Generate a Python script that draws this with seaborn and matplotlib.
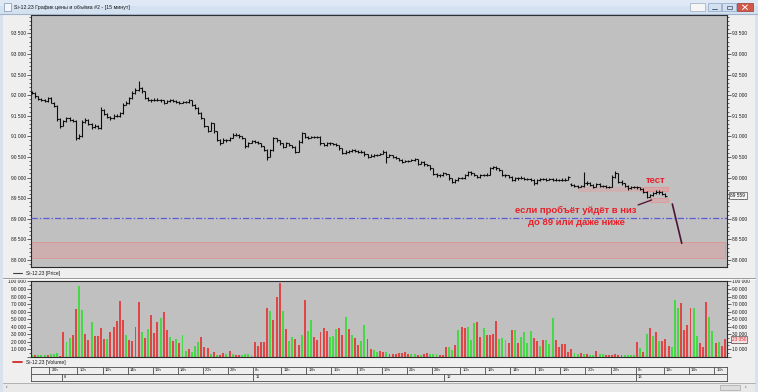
import numpy as np
import pandas as pd
import matplotlib
matplotlib.use("Agg")
import matplotlib.pyplot as plt
from matplotlib.patches import Rectangle
from matplotlib.lines import Line2D
from matplotlib.ticker import MultipleLocator, FuncFormatter
from matplotlib.transforms import blended_transform_factory
import seaborn as sns

sns.set_style("white")
plt.rcParams["font.family"] = ["Liberation Sans", "DejaVu Sans"]

# ------------------------------------------------------------------ data
title = "Si-12.23 График цены и объёма #2 - [15 минут]"
sessions = [("7", "21:30", "23:45"), ("8", "08:45", "23:45"), ("11", "08:45", "23:45"),
            ("12", "08:45", "23:45"), ("13", "08:45", "15:45")]
hour_labels = {"7": [23], "8": [10, 12, 14, 16, 18, 20, 22],
               "11": [8, 11, 13, 15, 17, 19, 21, 23],
               "12": [10, 12, 14, 16, 18, 20, 22], "13": [8, 11, 13, 15]}
day_labels = ["8", "11", "12", "13"]

price_first_open = 92080
price_open_gaps = {172: 89850}
price_close = [
    92050, 91970, 91900, 91880, 91860, 91930, 91820, 91740, 91420, 91260,
    91370, 91440, 91400, 91380, 90970, 91000, 91360, 91400, 91300, 91230,
    91250, 91200, 91650, 91540, 91480, 91440, 91500, 91500, 91570, 91770,
    91810, 91930, 92050, 92130, 92170, 92090, 91930, 91890, 91870, 91890,
    91890, 91870, 91810, 91860, 91870, 91860, 91840, 91810, 91830, 91830,
    91870, 91770, 91690, 91570, 91440, 91250, 91130, 91320, 91130, 90920,
    90840, 90920, 90900, 90960, 91040, 91030, 91000, 90960, 90760, 90840,
    90880, 90870, 90840, 90760, 90680,
    90510, 90670, 90950, 90900, 90830, 90750, 90830, 90790, 90750, 90630,
    90870, 91070, 90990, 90970, 90990, 90990, 90990, 90830, 90790, 90830,
    90830, 90810, 90790, 90710, 90590, 90630, 90640, 90670, 90650, 90630,
    90630, 90560, 90510, 90530, 90540, 90550, 90570, 90630, 90510, 90540,
    90510, 90470, 90430, 90380, 90400, 90400, 90430, 90450, 90340, 90380,
    90320, 90300, 90220, 90080, 90050, 90060, 90100, 90080, 89980, 89900,
    89940, 89980, 89990, 90060, 90140, 90100, 90060, 90020, 90060, 90060,
    90070, 90220,
    90260, 90220, 90180, 90060, 90050, 90020, 89940, 89980, 89980, 90000,
    89970, 89970, 89950, 89860, 89940, 89960, 89960, 89950, 89960, 89950,
    89950, 89940, 89950, 89950, 90010,
    89820, 89800, 89780, 89800, 89860, 89880, 89820, 89780, 89840, 89800,
    89790, 89780, 89770, 90020, 90100, 89900, 89860, 89800, 89740, 89770,
    89770, 89760, 89720, 89660, 89540, 89580, 89620, 89640, 89650, 89600, 89559]
price_high = [
    92100, 92070, 91990, 91920, 91910, 91960, 91950, 91840, 91760, 91440,
    91400, 91470, 91460, 91420, 91400, 91050, 91390, 91440, 91420, 91320,
    91290, 91270, 91700, 91660, 91560, 91500, 91540, 91540, 91600, 91800,
    91850, 91960, 92090, 92170, 92340, 92200, 92100, 91950, 91910, 91920,
    91930, 91910, 91880, 91890, 91900, 91900, 91880, 91860, 91860, 91860,
    91910, 91880, 91780, 91700, 91580, 91450, 91260, 91350, 91330, 91140,
    90940, 90950, 90940, 90990, 91080, 91070, 91050, 91010, 90970, 90870,
    90910, 90900, 90890, 90850, 90770,
    90690, 90700, 90980, 90970, 90910, 90840, 90860, 90840, 90800, 90760,
    90900, 91100, 91080, 91010, 91020, 91020, 91020, 91000, 90850, 90860,
    90860, 90850, 90830, 90800, 90720, 90660, 90670, 90700, 90690, 90670,
    90660, 90640, 90570, 90560, 90570, 90580, 90600, 90660, 90640, 90570,
    90550, 90520, 90480, 90440, 90430, 90430, 90460, 90480, 90460, 90410,
    90390, 90340, 90310, 90230, 90100, 90090, 90130, 90120, 90090, 89990,
    89970, 90010, 90020, 90090, 90170, 90160, 90120, 90070, 90090, 90090,
    90100, 90250,
    90290, 90280, 90240, 90190, 90090, 90070, 90030, 90010, 90010, 90030,
    90010, 90000, 89990, 89960, 89970, 89990, 89990, 89980, 89990, 89980,
    89980, 89970, 89980, 89980, 90040,
    89860, 89840, 89820, 89830, 90140, 89910, 89900, 89840, 89870, 89860,
    89830, 89820, 89800, 90050, 90150, 90110, 89930, 89880, 89820, 89800,
    89800, 89790, 89780, 89740, 89680, 89610, 89650, 89700, 89690, 89670, 89620]
price_low = [
    92020, 91940, 91880, 91850, 91830, 91840, 91800, 91720, 91380, 91200,
    91240, 91350, 91380, 91350, 90900, 90930, 90980, 91330, 91270, 91180,
    91200, 91170, 91180, 91510, 91450, 91400, 91420, 91470, 91480, 91550,
    91750, 91790, 91910, 92030, 92110, 92060, 91900, 91860, 91840, 91850,
    91860, 91840, 91780, 91800, 91840, 91830, 91810, 91780, 91800, 91800,
    91820, 91740, 91660, 91540, 91410, 91220, 91100, 91120, 91080, 90880,
    90800, 90830, 90870, 90890, 90950, 91000, 90970, 90930, 90720, 90750,
    90830, 90840, 90810, 90730, 90650,
    90425, 90490, 90650, 90870, 90800, 90720, 90740, 90760, 90720, 90600,
    90620, 90850, 90960, 90940, 90950, 90960, 90960, 90800, 90760, 90770,
    90800, 90780, 90760, 90680, 90560, 90560, 90600, 90620, 90620, 90600,
    90600, 90530, 90480, 90490, 90510, 90520, 90540, 90560, 90350, 90490,
    90480, 90440, 90400, 90350, 90370, 90370, 90390, 90400, 90310, 90330,
    90290, 90270, 90190, 90050, 90010, 90020, 90040, 90050, 89950, 89860,
    89880, 89920, 89960, 89970, 90040, 90070, 90030, 89990, 90000, 90030,
    90040, 90050,
    90200, 90190, 90150, 90030, 90020, 89990, 89910, 89920, 89950, 89960,
    89940, 89940, 89920, 89830, 89850, 89920, 89930, 89920, 89930, 89920,
    89920, 89910, 89920, 89920, 89930,
    89790, 89770, 89750, 89760, 89780, 89830, 89790, 89750, 89760, 89770,
    89760, 89750, 89740, 89760, 89990, 89870, 89830, 89770, 89710, 89720,
    89740, 89730, 89690, 89630, 89500, 89520, 89560, 89600, 89610, 89570, 89530]

volume = [
    2600, 1800, 1500, 2200, 1800, 2200, 3100, 3100, 4400, 1300,
    # day 8
    32600, 20000, 24700, 29000, 63000, 94000, 62000, 30000, 22000, 46700,
    26800, 26800, 38700, 23300, 23300, 33000, 40000, 47600, 74000, 49000,
    29000, 21500, 20200, 40000, 72300, 32600, 24700, 36500, 55500, 31300,
    46700, 51100, 59900, 35600, 25600, 20200, 23300, 18000, 28200, 7900,
    10500, 6200, 13700, 18900, 25600, 12800, 11500, 3500, 6200, 2600,
    2600, 4800, 3500, 7900, 3500, 1700, 1700, 2600, 3500, 3500,
    2000,
    # day 11
    20000, 14000,
    20000, 20000, 65000, 61000, 48500, 80000, 97500, 61000, 37000, 21000,
    25600, 23300, 15900, 29000, 75800, 34400, 49000, 26000, 22400, 33000,
    38700, 34400, 26000, 26800, 36500, 37800, 29000, 53000, 37000, 28200,
    24700, 15900, 21000, 42300, 23800, 10000, 8800, 5700, 7000, 6600,
    6200, 3100, 3100, 3500, 4800, 4400, 6200, 4000, 3100, 3100,
    2600, 2600, 3100, 4400, 3100, 3500, 3100, 2200, 1800,
    # day 12
    12800, 12800, 9200, 15900, 34800, 40000, 37800, 40000, 22400, 44500,
    45800, 26000, 38700, 28200, 28200,
    30000, 47600, 23300, 24700, 22000, 18000, 34800, 34800, 17600, 25600,
    32200, 18000, 33500, 24700, 21000, 13700, 22000, 22000, 16800, 52000,
    22000, 12800, 16800, 16800, 6200, 10500, 5300, 3100, 4400, 4000,
    4000, 1800, 1800, 7900, 3500, 4000, 2200, 1800, 2200, 3500,
    2200, 2200, 1800, 1800, 1800, 1800,
    # day 13
    19800, 11500, 6600, 30400, 37800, 28000, 32600, 21000, 21000, 23300,
    14800, 12800, 75400, 65200, 71000, 35600, 42300, 65200, 64300, 28000,
    18000, 12800, 72300, 53300, 33500, 18000, 19400, 13700, 23050]
volume_dir = ("grgggrgggr"
              "rggrrggrrg" "rrrrgrrrrr" "grrrrgrgrr" "rgrrgrgrgg" "rgggrrrgrg" "rrgrgrrggg" "g"
              "rr" "rrrgrrrgrg" "grrgrggrrr" "rrgggrrgrg" "rrggrrggrr" "grrrrrrrgg" "rgrrgggrr"
              "rggrgrrgggrrgrr" "rrgggrrgrg" "gggrrgrggg" "rrrrrrggrg" "rggrggrrrr" "rrgggg"
              "rgrgrgrgrr" "rgggrrrrgg" "rrrggrgrr")

levels_band = (88042, 88444)
level_line = 89030
note_main = ["если пробъёт уйдёт в низ", "до 89 или даже ниже"]
note_test = "тест"

# ------------------------------------------------------------------ bars / time
bar_day, bar_hour = [], []
for day, t0, t1 in sessions:
    for t in pd.date_range(f"2023-12-01 {t0}", f"2023-12-01 {t1}", freq="15min"):
        bar_day.append(day)
        bar_hour.append(t.hour)
bar_day = np.array(bar_day)
bar_hour = np.array(bar_hour)
n_bars = len(bar_day)
assert len(volume) == n_bars and len(volume_dir) == n_bars
assert len(price_close) == len(price_high) == len(price_low)

W, H = 758, 392
fig = plt.figure(figsize=(W / 100, H / 100), dpi=100)
fig.patch.set_facecolor("#efefef")


def box(x0, y0, x1, y1):
    return [x0 / W, 1 - y1 / H, (x1 - x0) / W, (y1 - y0) / H]


def fx(x):
    return x / W


def fy(y):
    return 1 - y / H


spacing = (725 - 32) / (n_bars - 1)
xl = (-(32 - 31) / spacing, (n_bars - 1) + (727 - 725) / spacing)

ax_p = fig.add_axes(box(31, 15, 727, 267))
ax_v = fig.add_axes(box(31, 280.5, 727, 357))
ax_t = fig.add_axes(box(31, 366.5, 727, 381))

spine_col = "#2a2a2a"
lab_col = "#1e1e1e"
for ax in (ax_p, ax_v):
    ax.set_facecolor("#c0c0c0")
    for s in ax.spines.values():
        s.set_color(spine_col)
        s.set_linewidth(0.8)
    ax.tick_params(axis="x", bottom=False, labelbottom=False, top=False)
    ax.tick_params(axis="y", which="both", left=True, right=True, labelleft=True,
                   labelright=True, direction="out", width=0.5, colors=spine_col,
                   labelcolor=lab_col, labelsize=3.5, pad=0.6)
    ax.tick_params(axis="y", which="major", length=3)
    ax.tick_params(axis="y", which="minor", length=1.5)

# ---- price OHLC
close = np.array(price_close, float)
opens = np.r_[price_first_open, close[:-1]]
for k, v in price_open_gaps.items():
    opens[k] = v
hi = np.maximum.reduce([np.array(price_high, float), opens, close])
lo = np.minimum.reduce([np.array(price_low, float), opens, close])
xp = np.arange(len(close))
bar_col = "#0c0c0c"
ax_p.vlines(xp, lo, hi, color=bar_col, lw=0.8, zorder=4)
ax_p.hlines(opens, xp - 0.5, xp, color=bar_col, lw=0.8, zorder=4)
ax_p.hlines(close, xp, xp + 0.5, color=bar_col, lw=0.8, zorder=4)

ax_p.set_xlim(xl)
ax_p.set_ylim(87830, 93944)
thou = FuncFormatter(lambda v, p: f"{v:,.0f}".replace(",", " "))
ax_p.yaxis.set_major_locator(MultipleLocator(500))
ax_p.yaxis.set_minor_locator(MultipleLocator(100))
ax_p.yaxis.set_major_formatter(thou)

# annotations on price
ax_p.axhspan(*levels_band, xmin=0, xmax=0.997, fc=(1, 0.45, 0.45, 0.22),
             ec=(0.93, 0.45, 0.45, 0.6), lw=0.5, zorder=2)
ax_p.axhline(level_line, color="#5b5bd6", lw=0.9, ls=(0, (5, 1.6, 1.2, 1.6)), zorder=3)
ax_p.add_patch(Rectangle((174.1, 89674), 28.7, 105, fc=(1, 0.5, 0.5, 0.2),
                         ec=(1, 0.55, 0.55, 0.35), lw=0.4, zorder=2))
ax_p.add_patch(Rectangle((194.2, 89674), 8.6, 105, fc=(1, 0.5, 0.5, 0.18),
                         ec=(0.95, 0.5, 0.5, 0.7), lw=0.5, zorder=2))
ax_p.add_patch(Rectangle((197.1, 89415), 5.7, 82, fc=(1, 0.5, 0.5, 0.25),
                         ec=(0.95, 0.5, 0.5, 0.7), lw=0.5, zorder=2))
red_txt = "#e8202a"
ax_p.text(173.5, 89213, note_main[0], ha="center", va="center", fontsize=6.8,
          fontweight="bold", color=red_txt, zorder=6)
ax_p.text(173.5, 88905, note_main[1], ha="center", va="center", fontsize=6.8,
          fontweight="bold", color=red_txt, zorder=6)
ax_p.text(199.0, 89917, note_test, ha="center", va="center", fontsize=6.8,
          fontweight="bold", color=red_txt, zorder=6)
ax_p.plot([193.3, 197.6], [89335, 89456], color="#5a1838", lw=1.0, zorder=6)
ax_p.plot([204.2, 207.2], [89359, 88405], color="#4a1434", lw=1.2, zorder=6)

tr_p = blended_transform_factory(ax_p.transAxes, ax_p.transData)
ax_p.text(1.005, price_close[-1], f"{price_close[-1]:,.0f}".replace(",", " "),
          transform=tr_p, fontsize=3.4, va="center", ha="left", color="#101010",
          bbox=dict(boxstyle="square,pad=0.25", fc="#f4f4f4", ec="#303030", lw=0.4),
          zorder=7, clip_on=False)

# ---- volume (seaborn)
df = pd.DataFrame({"bar": np.arange(n_bars), "vol": volume, "dir": list(volume_dir)})
sns.barplot(data=df, x="bar", y="vol", hue="dir", palette={"g": "#46d846", "r": "#e04646"},
            native_scale=True, dodge=False, width=0.62, errorbar=None, legend=False,
            saturation=1, linewidth=0, ax=ax_v)
ax_v.set_xlim(xl)
ax_v.set_ylim(-500, 101300)
ax_v.set_xlabel("")
ax_v.set_ylabel("")
ax_v.set_xticks([])
ax_v.yaxis.set_major_locator(MultipleLocator(10000))
ax_v.yaxis.set_minor_locator(MultipleLocator(5000))
ax_v.yaxis.set_major_formatter(FuncFormatter(
    lambda v, p: "" if v <= 0 else f"{v:,.0f}".replace(",", " ")))
tr_v = blended_transform_factory(ax_v.transAxes, ax_v.transData)
ax_v.text(1.007, volume[-1], f"{volume[-1]:,.0f}".replace(",", " "), transform=tr_v,
          fontsize=3.4, va="center", ha="left", color="#e02020",
          bbox=dict(boxstyle="square,pad=0.25", fc="#f6e2e2", ec="#303030", lw=0.4),
          zorder=7, clip_on=False)

# ---- time axis
ax_t.set_facecolor("#eeeeee")
ax_t.set_xlim(xl)
ax_t.set_ylim(0, 2)
ax_t.set_xticks([])
ax_t.set_yticks([])
for s in ax_t.spines.values():
    s.set_color("#4a4a4a")
    s.set_linewidth(0.6)
ax_t.axhline(1, color="#4a4a4a", lw=0.6)
for day, hours in hour_labels.items():
    for h in hours:
        idx = np.where((bar_day == day) & (bar_hour == h))[0][0]
        ax_t.plot([idx - 0.5, idx - 0.5], [1, 2], color="#4a4a4a", lw=0.6)
        ax_t.text(idx - 0.5 + 0.7, 1.5, f"{h}h", fontsize=3.0, va="center", ha="left",
                  color=lab_col)
for d in day_labels:
    idx = np.where(bar_day == d)[0][0]
    ax_t.plot([idx - 0.5, idx - 0.5], [0, 1], color="#4a4a4a", lw=0.6)
    ax_t.text(idx - 0.5 + 0.7, 0.5, d, fontsize=3.0, va="center", ha="left", color=lab_col)

# ------------------------------------------------------------------ window chrome
def frect(x0, y0, x1, y1, **kw):
    fig.add_artist(Rectangle((fx(x0), fy(y1)), (x1 - x0) / W, (y1 - y0) / H,
                             transform=fig.transFigure, **kw))


def fline(x0, y0, x1, y1, **kw):
    fig.add_artist(Line2D([fx(x0), fx(x1)], [fy(y0), fy(y1)], transform=fig.transFigure, **kw))


frect(0, 0, 758, 14, fc="#d4e1f1", ec="none")
frect(0, 0, 758, 6, fc="#dfe9f6", ec="none")
fline(0, 14, 758, 14, color="#9fb3cc", lw=0.8)
frect(0, 14, 3, 392, fc="#d8e1ec", ec="none")
frect(755, 14, 758, 392, fc="#d8e1ec", ec="none")
frect(3.5, 3, 10.5, 10.5, fc="#f3f6fb", ec="#7d93b3", lw=0.5)
fig.text(fx(14), fy(7.2), title, fontsize=3.8, va="center", ha="left", color="#1a1a1a")
frect(690, 3, 705, 11, fc="#f6f6f6", ec="#9aaac0", lw=0.5)
frect(708, 3, 721, 11, fc="#d3e0f0", ec="#8ea4c2", lw=0.5)
frect(722, 3, 736, 11, fc="#d3e0f0", ec="#8ea4c2", lw=0.5)
frect(737, 3, 753, 11, fc="#d2584a", ec="#9a3a30", lw=0.5)
fline(712, 8.5, 717, 8.5, color="#3a4a66", lw=0.6)
frect(727, 5.5, 731.5, 9, fc="none", ec="#3a4a66", lw=0.5)
fline(742.5, 5, 747.5, 9.5, color="white", lw=0.7)
fline(742.5, 9.5, 747.5, 5, color="white", lw=0.7)

# legends
fline(13, 273, 22, 273, color="#404040", lw=0.8)
fig.text(fx(26), fy(273.3), "Si-12.23 [Price]", fontsize=3.6, va="center", ha="left",
         color="#1a1a1a")
fline(3, 277.5, 755, 277.5, color="#9a9a9a", lw=0.7)
fline(3, 278.6, 755, 278.6, color="#ffffff", lw=0.6)
fline(13, 362, 22, 362, color="#d42828", lw=1.3)
fig.text(fx(26), fy(362.3), "Si-12.23 [Volume]", fontsize=3.6, va="center", ha="left",
         color="#1a1a1a")

# bottom scroll strip
fline(3, 382.8, 755, 382.8, color="#a8a8a8", lw=0.6)
frect(3, 383.2, 755, 392, fc="#e9e9e9", ec="none")
frect(720, 384.5, 740, 389.5, fc="#dcdcdc", ec="#9a9a9a", lw=0.4)
fig.text(fx(6), fy(387), "\u2039", fontsize=3.5, va="center", ha="left", color="#404040")
fig.text(fx(745), fy(387), "\u203a", fontsize=3.5, va="center", ha="left", color="#404040")

fig.savefig("out.png", dpi=100, facecolor=fig.get_facecolor())
